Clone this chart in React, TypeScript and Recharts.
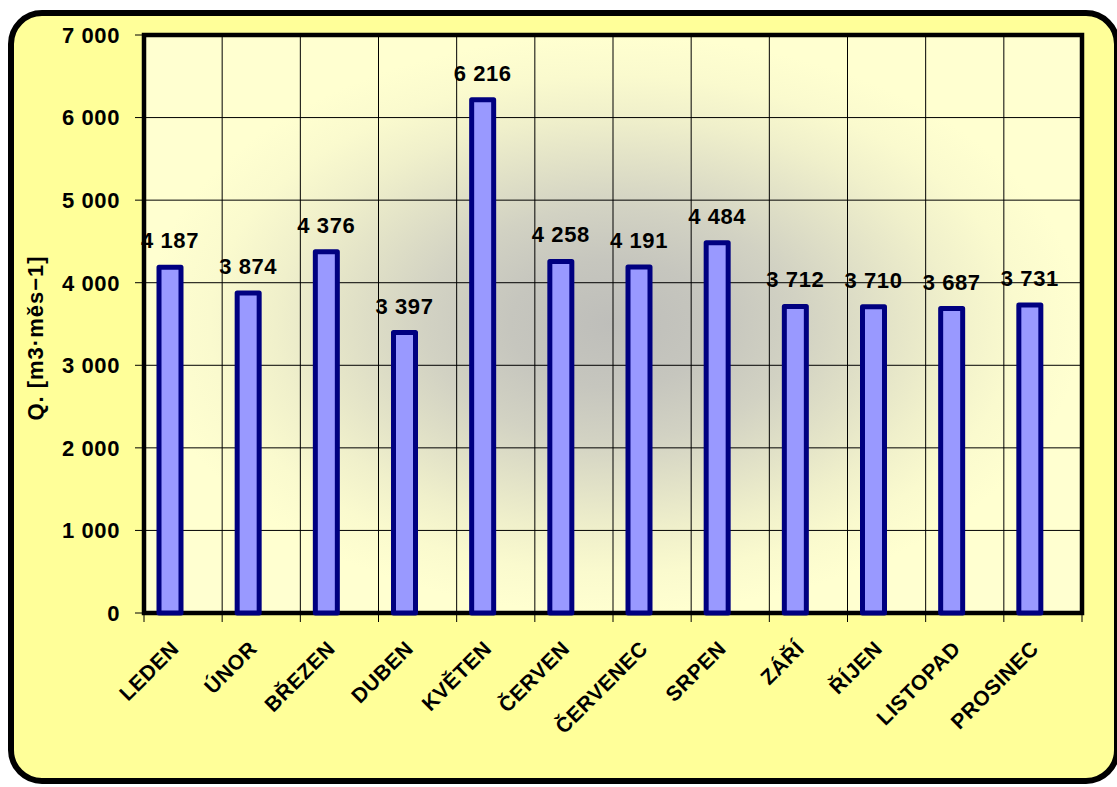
import React from 'react';
import {
  BarChart, Bar, XAxis, YAxis, CartesianGrid, LabelList, ReferenceArea, Label,
} from 'recharts';

const months = [
  'LEDEN', 'ÚNOR', 'BŘEZEN', 'DUBEN', 'KVĚTEN', 'ČERVEN',
  'ČERVENEC', 'SRPEN', 'ZÁŘÍ', 'ŘÍJEN', 'LISTOPAD', 'PROSINEC',
];
const flows = [4187, 3874, 4376, 3397, 6216, 4258, 4191, 4484, 3712, 3710, 3687, 3731];
const yTicks = [0, 1000, 2000, 3000, 4000, 5000, 6000, 7000];
const yTitle = 'Q. [m3·měs−1]';

const W = 1117;
const H = 787;
const M = { top: 35, right: 35, left: 0, bottom: 0 };
const Y_W = 144;
const X_H = 174;
const PLOT_LEFT = M.left + Y_W;
const PLOT_W = W - PLOT_LEFT - M.right;
const PLOT_BOTTOM = H - M.bottom - X_H;
const STEP = PLOT_W / months.length;

const FONT = '"Liberation Sans", Arial, Helvetica, sans-serif';

const data = months.map((m, i) => ({ month: m, q: flows[i] }));

// "4187" -> "4 187"
const fmt = (v: number) => String(v).replace(/\B(?=(\d{3})+(?!\d))/g, ' ');

function MonthTick(props: any) {
  const { x, payload, index } = props;
  const edge = x - STEP / 2;
  const ly = PLOT_BOTTOM + 37;
  const lx = x - 3;
  return (
    <g>
      <line x1={edge} y1={PLOT_BOTTOM} x2={edge} y2={PLOT_BOTTOM + 9} stroke="#000" />
      {index === months.length - 1 && (
        <line x1={x + STEP / 2} y1={PLOT_BOTTOM} x2={x + STEP / 2} y2={PLOT_BOTTOM + 9} stroke="#000" />
      )}
      <text
        x={lx} y={ly} transform={`rotate(-45, ${lx}, ${ly})`}
        textAnchor="end" fontFamily={FONT} fontWeight="bold" fontSize={21}
        letterSpacing={0.5} fill="#000"
      >
        {payload.value}
      </text>
    </g>
  );
}

function ValueLabel(props: any) {
  const { x, y, width, value } = props;
  return (
    <text
      x={x + width / 2} y={y - 19} textAnchor="middle"
      fontFamily={FONT} fontWeight="bold" fontSize={22} letterSpacing={0.6} fill="#000"
    >
      {fmt(Number(value))}
    </text>
  );
}

export default function App() {
  return (
    <div style={{ position: 'absolute', left: 0, top: 0, width: W, height: H, overflow: 'hidden', background: '#fff' }}>
      {/* rounded yellow chart frame */}
      <div
        style={{
          position: 'absolute', left: 8, top: 10, width: 1112, height: 774,
          boxSizing: 'border-box', border: '6px solid #000', borderRadius: 34,
          background: '#FFFF99',
        }}
      />
      <div style={{ position: 'absolute', left: 0, top: 0 }}>
        <BarChart width={W} height={H} data={data} margin={M} barSize={22} barGap={5}>
          <defs>
            <radialGradient id="plotBg" cx="50%" cy="50%" r="50%">
              <stop offset="0" stopColor="#BEBEBA" />
              <stop offset="0.22" stopColor="#C6C6BE" />
              <stop offset="0.4" stopColor="#D2D2C3" />
              <stop offset="0.56" stopColor="#E1E1C7" />
              <stop offset="0.72" stopColor="#F0F0CB" />
              <stop offset="0.86" stopColor="#FAFACE" />
              <stop offset="1" stopColor="#FFFFD0" />
            </radialGradient>
          </defs>
          <CartesianGrid
            fill="url(#plotBg)" fillOpacity={1} stroke="#000" strokeWidth={1}
            verticalCoordinatesGenerator={({ offset }: any) =>
              months.map((_, i) => offset.left + (i * offset.width) / months.length)}
          />
          <XAxis
            dataKey="month" height={X_H} interval={0}
            axisLine={false} tickLine={false} tick={<MonthTick />}
          />
          <YAxis
            width={Y_W} domain={[0, 7000]} ticks={yTicks} interval={0}
            axisLine={false} tickLine={{ stroke: '#000' }} tickSize={9} tickMargin={15}
            tickFormatter={fmt}
            tick={{ fill: '#000', fontSize: 22, fontWeight: 'bold', fontFamily: FONT, letterSpacing: 0.6 }}
          >
            <Label
              content={() => (
                <text
                  x={43} y={338} transform="rotate(-90, 43, 338)" textAnchor="middle"
                  fontFamily={FONT} fontWeight="bold" fontSize={22} letterSpacing={1} fill="#000"
                >
                  {yTitle}
                </text>
              )}
            />
          </YAxis>
          <ReferenceArea y1={0} y2={7000} fill="none" stroke="#000" strokeWidth={4.5} ifOverflow="visible" />
          <Bar
            dataKey="q" fill="#9999FF" stroke="#000080" strokeWidth={5}
            strokeLinejoin="round" isAnimationActive={false}
          >
            <LabelList dataKey="q" content={<ValueLabel />} />
          </Bar>
          {/* empty second series: keeps the clustered slot so bars sit left of centre */}
          <Bar dataKey="empty" fill="none" isAnimationActive={false} />
        </BarChart>
      </div>
    </div>
  );
}
